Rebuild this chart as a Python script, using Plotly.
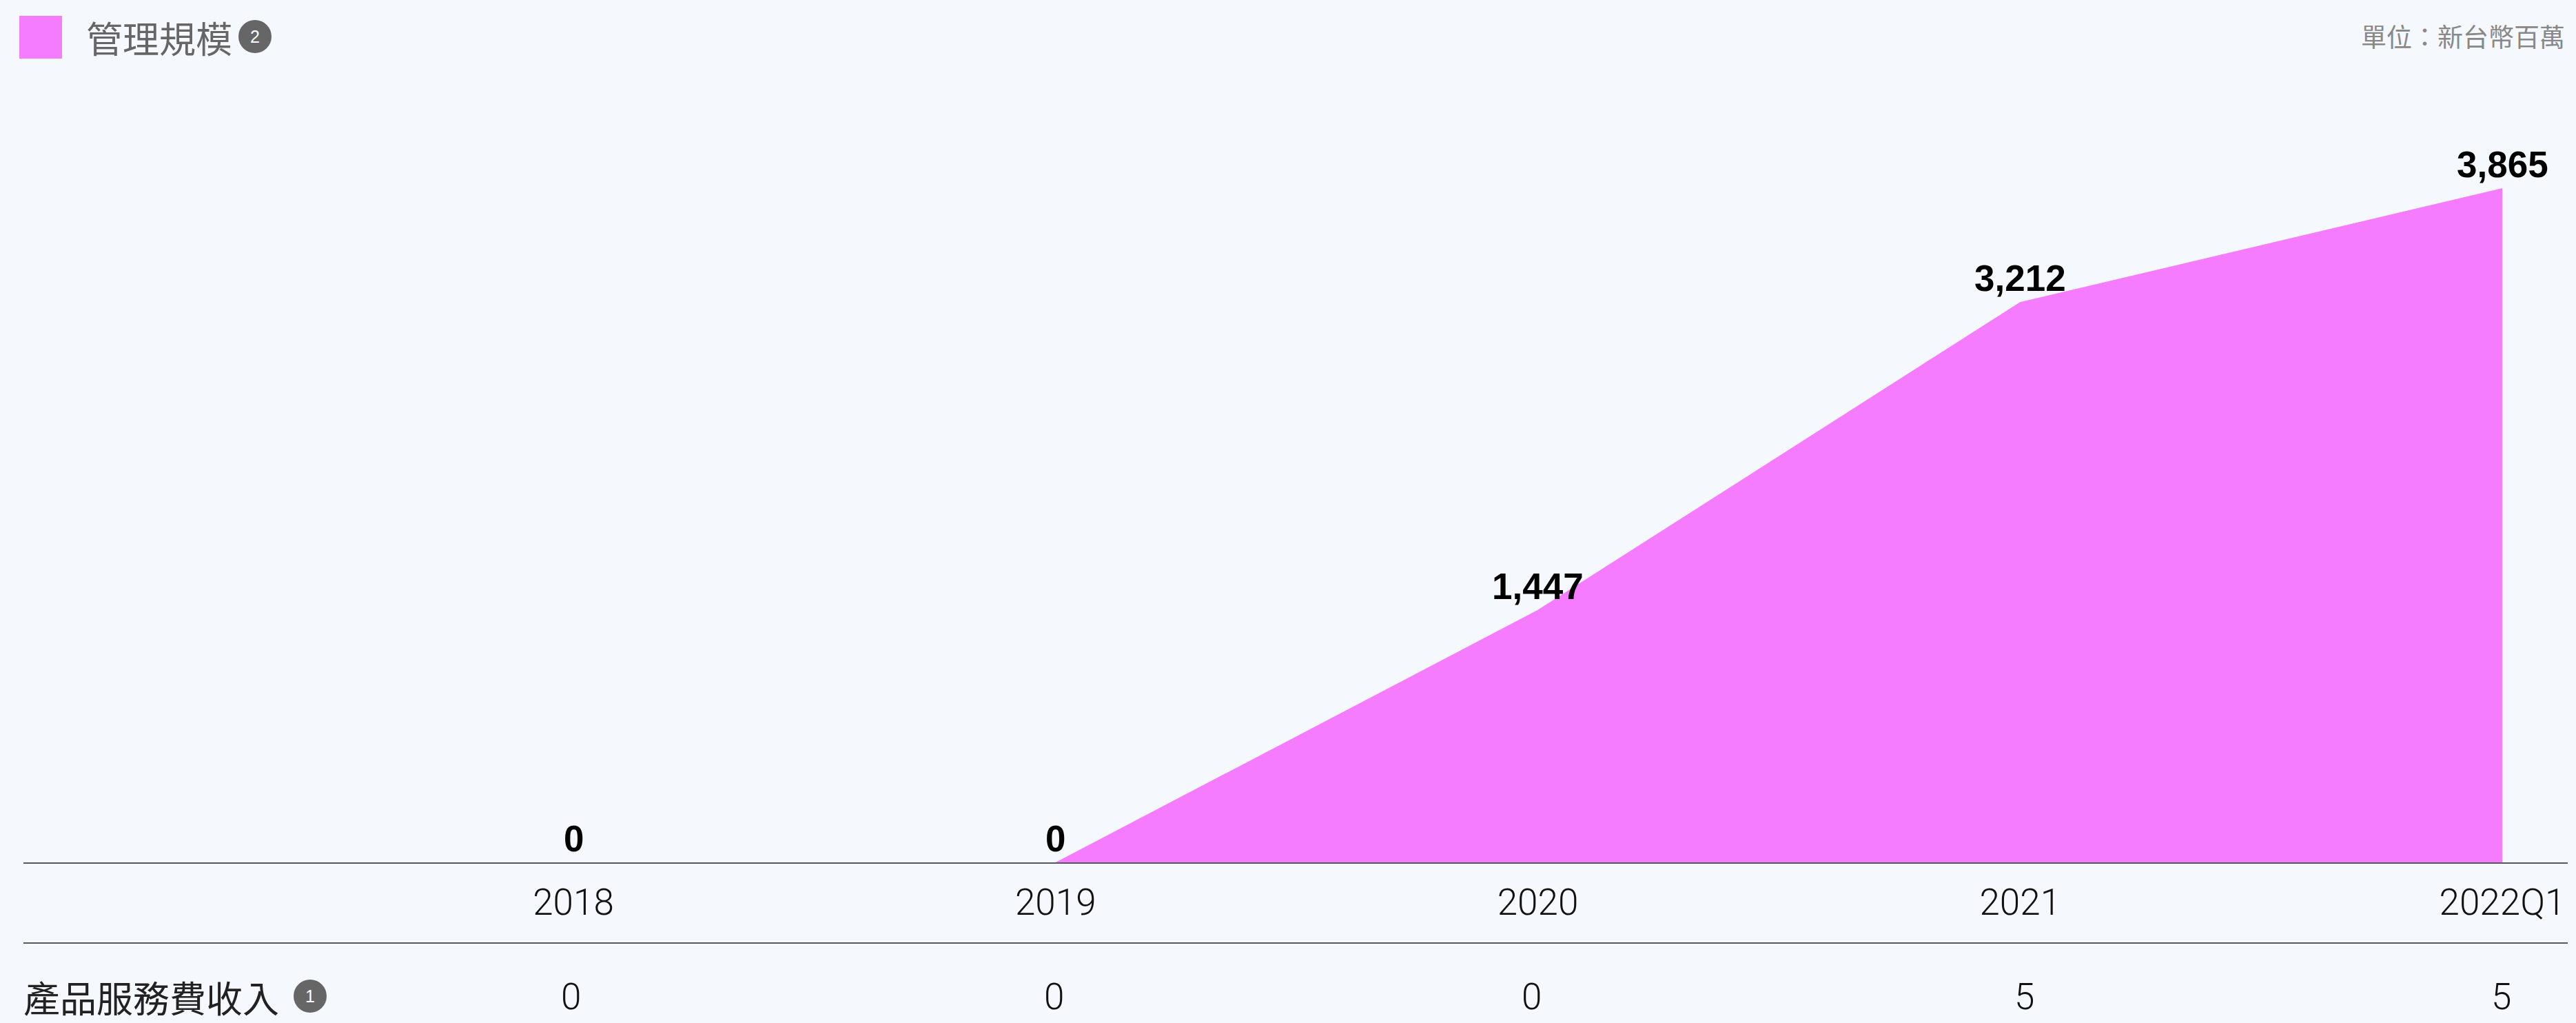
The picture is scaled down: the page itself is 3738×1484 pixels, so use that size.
import plotly.graph_objects as go

# Data
categories = ["2018", "2019", "2020", "2021", "2022Q1"]
aum_values = [0, 0, 1447, 3212, 3865]
fee_values = [0, 0, 0, 5, 5]
series_name = "管理規模"
fee_label = "產品服務費收入"
unit_label = "單位：新台幣百萬"

# Styles / layout constants
BG = "#f5f9fe"
PINK = "#f67cff"
LINE = "#55585c"
W, H = 3738, 1484
M_L, M_R, M_B = 34, 12, 233
PLOT_H = H - M_B
PLOT_W = W - M_L - M_R
X0, DX = 832, 699.75
PX_PER_UNIT = 978 / 3865
CJK = "'Noto Sans CJK TC', sans-serif"
NUM_LIGHT = "Roboto, 'Liberation Sans', sans-serif"
NUM_BOLD = "'Liberation Sans', Arial, sans-serif"
fee_xshift = [-4, -2, -9, 6, -2]


def py(px):
    return (PLOT_H - px) / PLOT_H


def pxx(px):
    return (px - M_L) / PLOT_W


fig = go.Figure()
fig.add_trace(go.Scatter(
    x=list(range(len(categories))), y=aum_values, mode="lines",
    name=series_name, fill="tozeroy", fillcolor=PINK,
    line=dict(width=0, color=PINK),
    cliponaxis=False, showlegend=False,
))

annotations = []


def note(x, y, text, size, color, family=CJK, xanchor="left", xref="paper", xshift=0, weight="normal"):
    annotations.append(dict(
        x=x, y=y, xref=xref, yref="paper", text=text, showarrow=False,
        xanchor=xanchor, yanchor="middle", xshift=xshift,
        font=dict(size=size, color=color, family=family, weight=weight),
    ))


for i, v in enumerate(aum_values):
    annotations.append(dict(
        x=i, y=v, xref="x", yref="y", text=f"{v:,}", showarrow=False,
        xanchor="center", yanchor="bottom", yshift=3,
        font=dict(family=NUM_BOLD, size=53, color="#000000", weight="bold"),
    ))

note(pxx(123), py(54), series_name, 53, "#666666")
note(pxx(370), py(53), "2", 25, "#ffffff", NUM_BOLD, "center")
note(pxx(3724), py(52), unit_label, 37, "#888888", xanchor="right")
note(pxx(32), py(1446), fee_label, 53, "#222222")
note(pxx(450), py(1445), "1", 25, "#ffffff", NUM_BOLD, "center")
for i, v in enumerate(fee_values):
    note(i, py(1446), str(v), 53, "#111111", NUM_LIGHT, "center", "x", fee_xshift[i], 300)


def circle(cx, cy, r):
    return dict(type="circle", xref="paper", yref="paper",
                x0=pxx(cx - r), x1=pxx(cx + r), y0=py(cy + r), y1=py(cy - r),
                fillcolor="#666666", line=dict(width=0), layer="above")


shapes = [
    dict(type="rect", xref="paper", yref="paper",
         x0=pxx(28), x1=pxx(90), y0=py(85), y1=py(23),
         fillcolor=PINK, line=dict(width=0)),
    dict(type="line", xref="paper", yref="paper", x0=0, x1=1,
         y0=py(1368), y1=py(1368), line=dict(color=LINE, width=2)),
    circle(370, 53, 24),
    circle(450, 1445, 24),
]

fig.update_layout(
    width=W, height=H, autosize=False,
    paper_bgcolor=BG, plot_bgcolor=BG,
    margin=dict(l=M_L, r=M_R, t=0, b=M_B, pad=0),
    showlegend=False,
    annotations=annotations, shapes=shapes,
    xaxis=dict(
        tickmode="array", tickvals=list(range(len(categories))), ticktext=categories,
        range=[(M_L - X0) / DX, (W - M_R - X0) / DX],
        showgrid=False, zeroline=False, showline=True, linecolor=LINE, linewidth=2,
        ticks="outside", ticklen=10, tickcolor="rgba(0,0,0,0)", tickwidth=1,
        tickfont=dict(family=NUM_LIGHT, size=53, color="#111111", weight=300),
    ),
    yaxis=dict(range=[0, PLOT_H / PX_PER_UNIT], visible=False),
)

fig.write_html(
    "out.html",
    config={"displayModeBar": False},
    post_script="document.body.style.margin='0';document.body.style.background='%s';" % BG,
)
